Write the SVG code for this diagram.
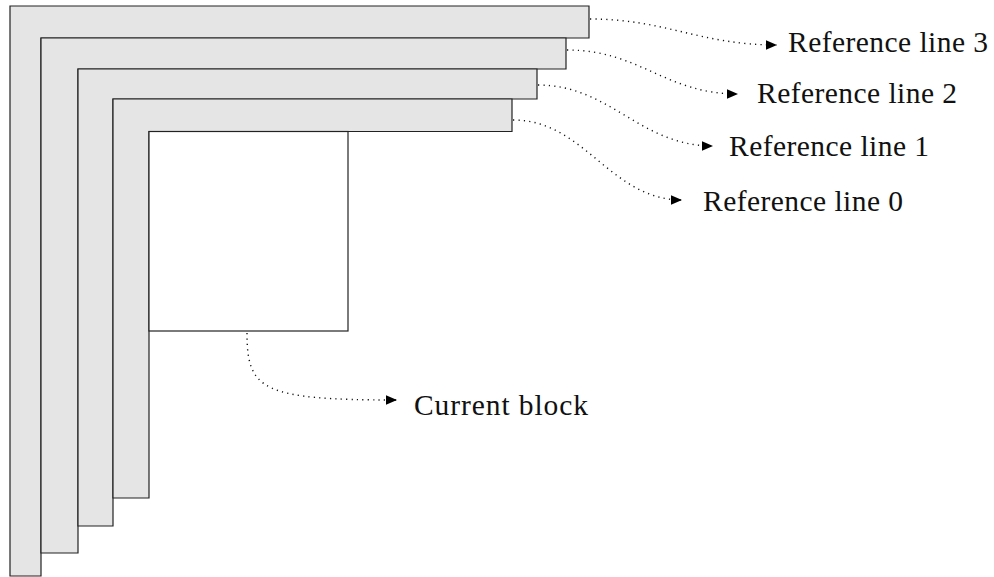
<svg xmlns="http://www.w3.org/2000/svg" width="994" height="577" viewBox="0 0 994 577">
  <style>
    .band { fill: #e5e5e5; stroke: #222; stroke-width: 1.2; }
    .block { fill: #ffffff; stroke: #222; stroke-width: 1.2; }
    .link { fill: none; stroke: #111; stroke-width: 1.4; stroke-dasharray: 1.2 4.2; }
    .label { font-family: "Liberation Serif", "Times New Roman", serif; font-size: 29.5px; fill: #111; }
  </style>
  <defs>
    <marker id="tip" markerUnits="userSpaceOnUse" markerWidth="13" markerHeight="11" refX="11.5" refY="5" orient="auto">
      <path d="M0,0 L11.5,5 L0,10 z" fill="#000"/>
    </marker>
  </defs>

  <!-- reference line bands, outermost first -->
  <g id="ref-line-3">
    <polygon class="band" points="10,6 589,6 589,38 41,38 41,576 10,576"/>
  </g>
  <g id="ref-line-2">
    <polygon class="band" points="41,38 566,38 566,69 78,69 78,553 41,553"/>
  </g>
  <g id="ref-line-1">
    <polygon class="band" points="78,69 537,69 537,99 113,99 113,526 78,526"/>
  </g>
  <g id="ref-line-0">
    <polygon class="band" points="113,99 512,99 512,131.5 149,131.5 149,498 113,498"/>
  </g>
  <g id="current-block">
    <rect class="block" x="149" y="131.5" width="199" height="199.5"/>
  </g>

  <!-- dotted leaders -->
  <g id="connectors">
    <path class="link" marker-end="url(#tip)" d="M590,19 C665,19 700,45 777,45"/>
    <path class="link" marker-end="url(#tip)" d="M567,50 C640,50 665,94 738,94"/>
    <path class="link" marker-end="url(#tip)" d="M538,85 C610,85 640,146 713,146"/>
    <path class="link" marker-end="url(#tip)" d="M513,120 C585,120 610,200 682,200"/>
    <path class="link" marker-end="url(#tip)" d="M247,333 C247,390 262,400 397,400"/>
  </g>

  <!-- labels -->
  <g id="labels">
    <text class="label" x="788" y="52" textLength="200" lengthAdjust="spacing">Reference line 3</text>
    <text class="label" x="757" y="103" textLength="200" lengthAdjust="spacing">Reference line 2</text>
    <text class="label" x="729" y="156" textLength="200" lengthAdjust="spacing">Reference line 1</text>
    <text class="label" x="703" y="211" textLength="200" lengthAdjust="spacing">Reference line 0</text>
    <text class="label" x="414" y="415" textLength="174" lengthAdjust="spacing">Current block</text>
  </g>
</svg>
